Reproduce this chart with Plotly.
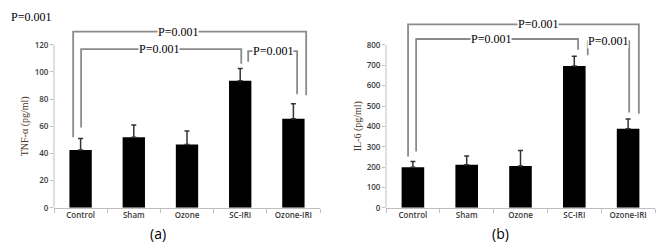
import plotly.graph_objects as go

categories = ["Control", "Sham", "Ozone", "SC-IRI", "Ozone-IRI"]

tnf_mean = [42.5, 52, 46.5, 93.5, 65.5]
tnf_err = [8.5, 9, 10, 9, 11]
il6_mean = [199, 212, 205, 696, 388]
il6_err = [28, 43, 77, 48, 48]

tnf_ticks = [0, 20, 40, 60, 80, 100, 120]
il6_ticks = [0, 100, 200, 300, 400, 500, 600, 700, 800]

p_label = "P=0.001"

# significance brackets: (x_left, x_right, y_top, y_left_end, y_right_end, label_x)
tnf_brackets = [
    (-0.14, 4.24, 129.7, 51.9, 82.9, 1.83),
    (0.01, 3.02, 116.8, 59.1, 106.0, 1.47),
    (3.15, 4.07, 115.3, 107.4, 83.6, 3.62),
]
il6_brackets = [
    (-0.09, 4.20, 901, 252, 462, 2.33),
    (0.06, 3.07, 829, 276, 776, 1.45),
    (3.25, 4.02, 818, 749, 468, 3.63),
]

W, H = 665, 244
y0_px = 204
fig = go.Figure()

axis_gray = "#bfbfbf"
tick_font = dict(family="Open Sans", size=8, color="#3a3a3a", weight=600)

for i, (means, errs, xa, ya) in enumerate([
    (tnf_mean, tnf_err, "x", "y"),
    (il6_mean, il6_err, "x2", "y2"),
]):
    fig.add_trace(go.Bar(
        x=categories, y=means, xaxis=xa, yaxis=ya,
        marker=dict(color="black", line=dict(width=0)),
        width=0.42,
        error_y=dict(type="data", array=errs, arrayminus=[0] * len(errs),
                     symmetric=False, color="#333333", thickness=1.5, width=2.5),
        showlegend=False,
    ))

ydom = [1 - y0_px / H, 1]
fig.update_layout(
    width=W, height=H, margin=dict(l=0, r=0, t=0, b=0),
    paper_bgcolor="white", plot_bgcolor="white",
    bargap=0.58,
    xaxis=dict(domain=[46 / W, 312 / W], anchor="y", showline=True, linecolor=axis_gray,
               linewidth=1, ticks="outside", tickson="boundaries", ticklen=4,
               tickcolor=axis_gray, tickfont=tick_font, showgrid=False, zeroline=False),
    xaxis2=dict(domain=[378 / W, 647 / W], anchor="y2", showline=True, linecolor=axis_gray,
                linewidth=1, ticks="outside", tickson="boundaries", ticklen=4,
                tickcolor=axis_gray, tickfont=tick_font, showgrid=False, zeroline=False),
    yaxis=dict(domain=ydom, anchor="x", range=[0, y0_px / ((204 - 37.5) / 120)],
               tickvals=tnf_ticks, ticks="outside", ticklen=3, tickcolor=axis_gray,
               tickfont=tick_font, showgrid=False, zeroline=False, showline=False),
    yaxis2=dict(domain=ydom, anchor="x2", range=[0, y0_px / ((204 - 37.7) / 800)],
                tickvals=il6_ticks, ticks="outside", ticklen=3, tickcolor=axis_gray,
                tickfont=tick_font, showgrid=False, zeroline=False, showline=False),
)

# y axis lines only up to the top tick
fig.add_shape(type="line", xref="x domain", yref="y", x0=0, x1=0, y0=0, y1=tnf_ticks[-1],
              line=dict(color=axis_gray, width=1))
fig.add_shape(type="line", xref="x2 domain", yref="y2", x0=0, x1=0, y0=0, y1=il6_ticks[-1],
              line=dict(color=axis_gray, width=1))

br_color = "#8a8a8a"
serif = "Liberation Serif"
for brs, xr, yr in [(tnf_brackets, "x", "y"), (il6_brackets, "x2", "y2")]:
    for (xl, xrgt, yt, yle, yre, lx) in brs:
        fig.add_shape(type="path", xref=xr, yref=yr,
                      path=f"M {xl},{yle} L {xl},{yt} L {xrgt},{yt} L {xrgt},{yre}",
                      line=dict(color=br_color, width=1.8))
        fig.add_annotation(x=lx, y=yt, xref=xr, yref=yr, text=p_label, showarrow=False,
                           font=dict(family=serif, size=12, color="black"),
                           bgcolor="white", borderpad=0, xanchor="center", yanchor="middle")

# axis titles
fig.add_annotation(x=17 / W, y=60, xref="paper", yref="y", text="TNF-α (pg/ml)",
                   textangle=-90, showarrow=False, xanchor="center", yanchor="middle",
                   font=dict(family=serif, size=10, color="#4a3426"))
fig.add_annotation(x=350 / W, y=400, xref="paper", yref="y2", text="IL-6 (pg/ml)",
                   textangle=-90, showarrow=False, xanchor="center", yanchor="middle",
                   font=dict(family=serif, size=10, color="#4a3426"))

# panel labels
fig.add_annotation(x=150 / W, y=1 - 230 / H, xref="paper", yref="paper", text="(a)",
                   showarrow=False, xanchor="center", yanchor="middle",
                   font=dict(family="Open Sans", size=14, color="black"))
fig.add_annotation(x=492 / W, y=1 - 230 / H, xref="paper", yref="paper", text="(b)",
                   showarrow=False, xanchor="center", yanchor="middle",
                   font=dict(family="Open Sans", size=14, color="black"))

# stray label in the top-left corner
fig.add_annotation(x=1 / W, y=1 - 9 / H, xref="paper", yref="paper", text=p_label,
                   showarrow=False, xanchor="left", yanchor="middle",
                   font=dict(family=serif, size=12, color="black"))

fig.write_html("out.html")
